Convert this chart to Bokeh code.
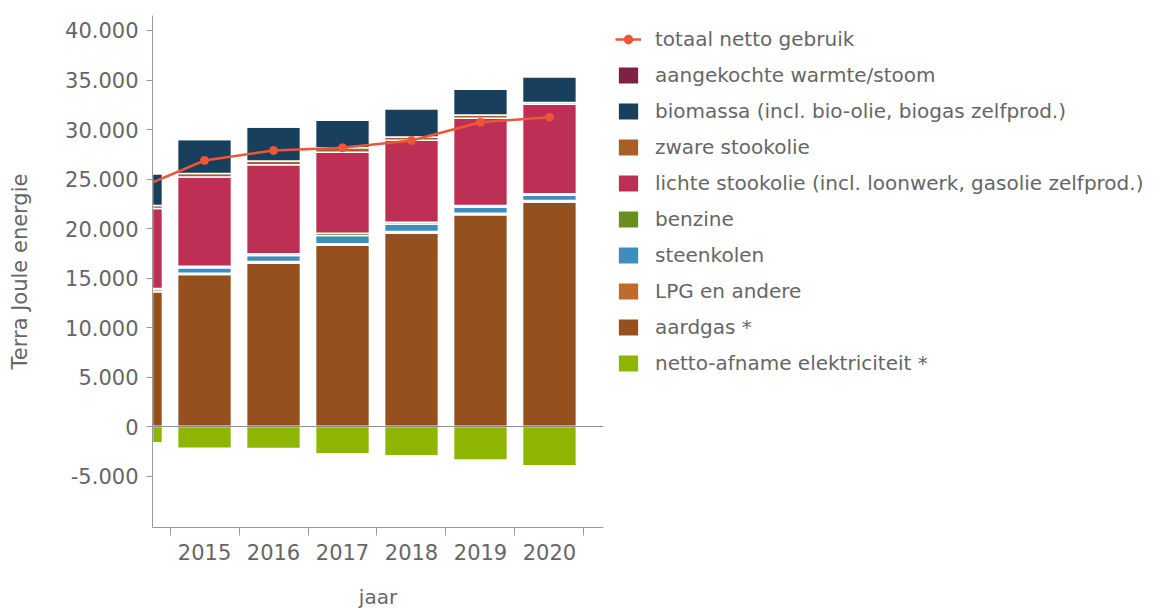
from bokeh.plotting import figure
from bokeh.models import (ColumnDataSource, Range1d, FixedTicker, CustomJSTickFormatter,
                          Legend, LegendItem, Span)
from bokeh.embed import file_html
from bokeh.resources import INLINE

# ---- data (TJ) ----
years = [2014, 2015, 2016, 2017, 2018, 2019, 2020]
aardgas = [13600, 15350, 16520, 18300, 19550, 21390, 22680]
lpg = [250, 130, 150, 150, 150, 150, 150]
steenkolen = [60, 550, 600, 850, 750, 620, 540]
benzine = [40, 150, 180, 220, 190, 160, 140]
lichte_stookolie = [8080, 9030, 8980, 8190, 8285, 8820, 9040]
zware_stookolie = [300, 340, 400, 450, 320, 330, 170]
biomassa = [3210, 3450, 3420, 2770, 2860, 2590, 2620]
aangekochte_warmte = [50, 50, 50, 50, 50, 50, 50]
elektriciteit = [-1650, -2190, -2220, -2760, -2960, -3370, -3970]
totaal = [23930, 26870, 27880, 28150, 28890, 30730, 31240]

y_ticks = [-5000, 0, 5000, 10000, 15000, 20000, 25000, 30000, 35000, 40000]
x_labels = [2015, 2016, 2017, 2018, 2019, 2020]

stack_keys = ["aardgas", "lpg", "steenkolen", "benzine", "lichte", "zware",
              "biomassa", "aangekochte"]
stack_labels = ["aardgas *", "LPG en andere", "steenkolen", "benzine",
                "lichte stookolie (incl. loonwerk, gasolie zelfprod.)",
                "zware stookolie", "biomassa (incl. bio-olie, biogas zelfprod.)",
                "aangekochte warmte/stoom"]
stack_colors = ["#96501E", "#C06A2E", "#3D8EBD", "#6B8E23", "#BE2F55",
                "#A95E2A", "#183F5C", "#7D2244"]
elek_color = "#8DB501"
line_color = "#EE5638"

source = ColumnDataSource(dict(
    years=years, aardgas=aardgas, lpg=lpg, steenkolen=steenkolen, benzine=benzine,
    lichte=lichte_stookolie, zware=zware_stookolie, biomassa=biomassa,
    aangekochte=aangekochte_warmte, elek=elektriciteit, totaal=totaal,
))

FONT = "DejaVu Sans"
TXT = "#666666"

p = figure(frame_width=451, frame_height=512, output_backend="svg", toolbar_location=None,
           x_range=Range1d(2014.246, 2020.783), y_range=Range1d(-10200, 41515),
           min_border_left=152, min_border_top=15, min_border_bottom=80,
           min_border_right=0)
p.outline_line_color = None
p.grid.grid_line_color = None
p.background_fill_color = "white"

bars = p.vbar_stack(stack_keys, x="years", width=0.78, source=source,
                    color=stack_colors, line_color="white", line_width=1.5)
elek_r = p.vbar(x="years", top="elek", bottom=0, width=0.78, source=source,
                fill_color=elek_color, line_color="white", line_width=1.5)

p.add_layout(Span(location=0, dimension="width", line_color="#8c8c8c", line_width=1))

line_r = p.line(x="years", y="totaal", source=source, line_color=line_color,
                line_width=2.5)
pt_r = p.scatter(x="years", y="totaal", source=source, size=8,
                 fill_color=line_color, line_color=line_color)

# axes
xa = p.xaxis[0]
xa.ticker = FixedTicker(ticks=x_labels,
                        minor_ticks=[y - 0.5 for y in years] + [years[-1] + 0.5])
xa.major_tick_line_color = None
xa.major_tick_out = 8
xa.major_tick_in = 0
xa.minor_tick_line_color = "#999999"
xa.minor_tick_out = 8
xa.minor_tick_in = 0
xa.axis_line_color = "#999999"
xa.major_label_standoff = 8
xa.major_label_text_font = FONT
xa.major_label_text_font_size = "21px"
xa.major_label_text_color = TXT
xa.formatter = CustomJSTickFormatter(code="return tick.toFixed(0);")
xa.axis_label = "jaar"
xa.axis_label_text_font = FONT
xa.axis_label_text_font_size = "20px"
xa.axis_label_text_font_style = "normal"
xa.axis_label_text_color = TXT
xa.axis_label_standoff = 22

ya = p.yaxis[0]
ya.ticker = FixedTicker(ticks=y_ticks)
ya.minor_tick_line_color = None
ya.major_tick_line_color = "#999999"
ya.major_tick_out = 6
ya.major_tick_in = 0
ya.axis_line_color = "#999999"
ya.major_label_standoff = 8
ya.major_label_text_font = FONT
ya.major_label_text_font_size = "21px"
ya.major_label_text_color = TXT
ya.formatter = CustomJSTickFormatter(
    code="return tick.toFixed(0).replace(/\\B(?=(\\d{3})+(?!\\d))/g, '.');")
ya.axis_label = "Terra Joule energie"
ya.axis_label_text_font = FONT
ya.axis_label_text_font_size = "21px"
ya.axis_label_text_font_style = "normal"
ya.axis_label_text_color = TXT
ya.axis_label_standoff = 30

# legend
items = [LegendItem(label="totaal netto gebruik", renderers=[line_r, pt_r])]
for r, lab in reversed(list(zip(bars, stack_labels))):
    items.append(LegendItem(label=lab, renderers=[r]))
items.append(LegendItem(label="netto-afname elektriciteit *", renderers=[elek_r]))

legend = Legend(items=items, location="top_left", margin=12, padding=10,
                spacing=12, glyph_width=26, glyph_height=22, label_height=22,
                label_standoff=14, border_line_color=None,
                background_fill_alpha=0,
                label_text_font=FONT, label_text_font_size="20px",
                label_text_color=TXT)
p.add_layout(legend, "right")

open("out.html", "w").write(file_html(p, INLINE))
